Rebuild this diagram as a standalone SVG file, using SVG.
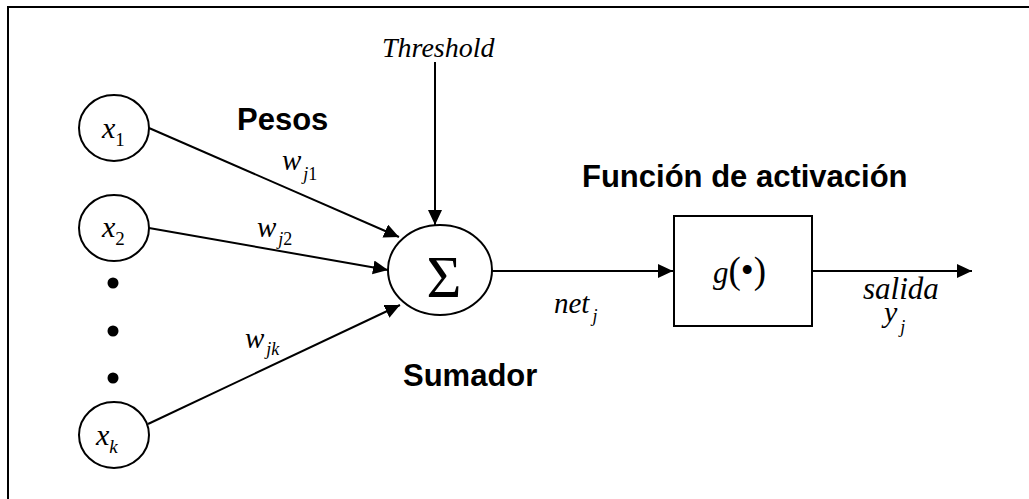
<svg xmlns="http://www.w3.org/2000/svg" width="1029" height="499" viewBox="0 0 1029 499">
  <style>
    .edge { stroke: #000; stroke-width: 2; fill: none; }
    .node { stroke: #000; stroke-width: 2; fill: #fff; }
    .math { font-family: "Liberation Serif", "Times New Roman", serif; font-style: italic; fill: #000; }
    .up { font-style: normal; }
    .label { font-family: "Liberation Sans", Arial, sans-serif; font-weight: bold; font-size: 31px; fill: #000; }
    .dot { fill: #000; }
  </style>
  <defs>
    <marker id="arrow" markerUnits="userSpaceOnUse" markerWidth="16" markerHeight="15" refX="15" refY="7" orient="auto">
      <path d="M0,0 L15,7 L0,14 Z" fill="#000"/>
    </marker>
  </defs>

  <rect x="0" y="0" width="1029" height="499" fill="#fff"/>
  <!-- outer frame, running off the right and bottom edges -->
  <rect x="8" y="7" width="1060" height="540" fill="none" stroke="#000" stroke-width="2"/>

  <!-- connectors -->
  <g id="connectors">
    <line class="edge" x1="149" y1="128" x2="399" y2="237" marker-end="url(#arrow)"/>
    <line class="edge" x1="149" y1="228" x2="388" y2="270" marker-end="url(#arrow)"/>
    <line class="edge" x1="148" y1="424" x2="400" y2="305" marker-end="url(#arrow)"/>
    <line class="edge" x1="435" y1="62" x2="435" y2="225" marker-end="url(#arrow)"/>
    <line class="edge" x1="492" y1="271" x2="673" y2="271" marker-end="url(#arrow)"/>
    <line class="edge" x1="812" y1="271" x2="972" y2="271" marker-end="url(#arrow)"/>
  </g>

  <!-- inputs -->
  <g id="input-x1">
    <ellipse class="node" cx="114" cy="128" rx="35" ry="33"/>
    <text class="math" x="102" y="138" font-size="30">x<tspan class="up" font-size="19" dy="8">1</tspan></text>
  </g>
  <g id="input-x2">
    <ellipse class="node" cx="114" cy="228" rx="35" ry="33"/>
    <text class="math" x="102" y="237" font-size="30">x<tspan class="up" font-size="19" dy="8">2</tspan></text>
  </g>
  <g id="ellipsis">
    <circle class="dot" cx="113" cy="283" r="5.5"/>
    <circle class="dot" cx="113" cy="331" r="5.5"/>
    <circle class="dot" cx="113" cy="378" r="5.5"/>
  </g>
  <g id="input-xk">
    <ellipse class="node" cx="114" cy="435" rx="35" ry="33"/>
    <text class="math" x="96" y="445" font-size="30">x<tspan font-size="19" dy="8">k</tspan></text>
  </g>

  <!-- weights -->
  <g id="weights">
    <text class="label" x="237" y="130">Pesos</text>
    <text class="math" x="282" y="170" font-size="29">w<tspan font-size="18" dy="10" dx="2">j</tspan><tspan class="up" font-size="18">1</tspan></text>
    <text class="math" x="257" y="237" font-size="29">w<tspan font-size="18" dy="8" dx="2">j</tspan><tspan class="up" font-size="18">2</tspan></text>
    <text class="math" x="245" y="348" font-size="29">w<tspan font-size="18" dy="7" dx="2">jk</tspan></text>
  </g>

  <!-- threshold -->
  <g id="threshold">
    <text class="math" x="382" y="57" font-size="28">Threshold</text>
  </g>

  <!-- summing junction -->
  <g id="summer">
    <ellipse class="node" cx="440" cy="270" rx="52" ry="45"/>
    <text x="444" y="297" font-family="Liberation Serif, 'Times New Roman', serif" font-size="60" text-anchor="middle">Σ</text>
    <text class="label" x="403" y="386">Sumador</text>
  </g>

  <!-- net input -->
  <g id="net">
    <text class="math" x="554" y="313" font-size="29">net<tspan font-size="18" dy="9" dx="3">j</tspan></text>
  </g>

  <!-- activation function -->
  <g id="activation">
    <text class="label" x="582" y="187" font-size="32">Función de activación</text>
    <rect class="node" x="674" y="216" width="138" height="110"/>
    <text class="math" x="713" y="283" font-size="31">g<tspan class="up" font-size="37">(•)</tspan></text>
  </g>

  <!-- output: two-line label under the arrow -->
  <g id="output">
    <text class="math" font-size="31"><tspan x="863" y="299">salida</tspan><tspan x="884" y="322" font-size="30">y</tspan><tspan font-size="18" dx="3" dy="11">j</tspan></text>
  </g>
</svg>
